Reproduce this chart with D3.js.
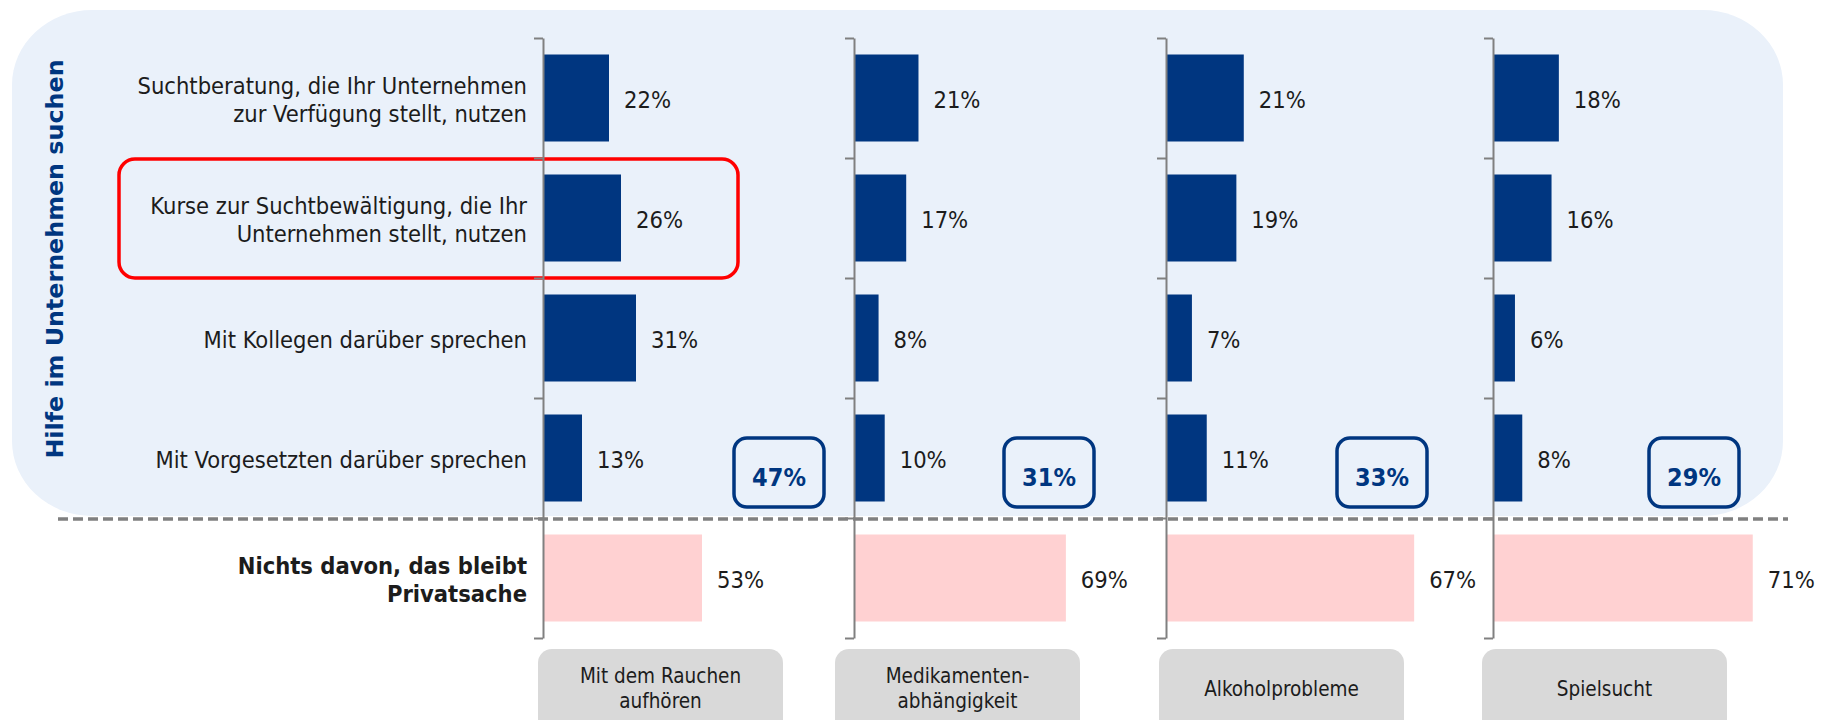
<!DOCTYPE html>
<html>
<head>
<meta charset="utf-8">
<script src="https://cdn.jsdelivr.net/npm/d3@7/dist/d3.min.js"></script>
<style>
  html, body { margin: 0; padding: 0; background: #ffffff; }
  svg { display: block; }
  .cond { font-family: 'DejaVu Sans Condensed', 'DejaVu Sans', sans-serif; font-stretch: condensed; }
</style>
</head>
<body>
<svg id="chart" width="1823" height="720"></svg>
<script>
// ---------------- DATA ----------------
const categoryLines = [
  ["Suchtberatung, die Ihr Unternehmen", "zur Verfügung stellt, nutzen"],
  ["Kurse zur Suchtbewältigung, die Ihr", "Unternehmen stellt, nutzen"],
  ["Mit Kollegen darüber sprechen"],
  ["Mit Vorgesetzten darüber sprechen"],
  ["Nichts davon, das bleibt", "Privatsache"]
];
const topicLines = [
  ["Mit dem Rauchen", "aufhören"],
  ["Medikamenten-", "abhängigkeit"],
  ["Alkoholprobleme"],
  ["Spielsucht"]
];
const valuesRauchen      = [22, 26, 31, 13, 53];
const valuesMedikamente  = [21, 17, 8, 10, 69];
const valuesAlkohol      = [21, 19, 7, 11, 67];
const valuesSpielsucht   = [18, 16, 6, 8, 71];
const totalsHilfe        = [47, 31, 33, 29];
const groupTitle = "Hilfe im Unternehmen suchen";

// ---------------- LAYOUT ----------------
const seriesValues = [valuesRauchen, valuesMedikamente, valuesAlkohol, valuesSpielsucht];
const axisX   = [543, 854, 1166, 1493];
const xMax    = [100, 97.7, 81, 82];    // per-panel axis maxima (each panel its own scale)
const plotW   = 300;
const totalBoxX = [734, 1004, 1337, 1649];
const topicBoxX = [538, 835, 1159, 1482];
const yTop = 38, yBottom = 638;

const blue = "#003680", pink = "#FFD1D2", panelBg = "#EAF1FA", gray = "#808080", textCol = "#1c1c1c";

const svg = d3.select("#chart");

// background panel
svg.append("rect")
  .attr("x", 12).attr("y", 10).attr("width", 1771).attr("height", 506)
  .attr("rx", 80).attr("ry", 75)
  .attr("fill", panelBg);

const catIdx = d3.range(categoryLines.length);
const y = d3.scaleBand().domain(catIdx).range([yTop, yBottom])
  .paddingInner(0.275).paddingOuter(0.1375);
const yEdge = d3.scaleLinear().domain([0, categoryLines.length]).range([yTop, yBottom]);

// vertical group title
svg.append("text")
  .attr("transform", `translate(63, 259) rotate(-90)`)
  .attr("text-anchor", "middle")
  .attr("font-family", "'DejaVu Sans', sans-serif")
  .attr("font-weight", "bold")
  .attr("font-size", 23.8)
  .attr("fill", blue)
  .text(groupTitle);

// category labels
const lineH = 28;
const lab = svg.append("g").attr("class", "cond");
categoryLines.forEach((lines, i) => {
  const cy = y(i) + y.bandwidth() / 2;
  const t = lab.append("text")
    .attr("text-anchor", "end")
    .attr("font-size", 23.5)
    .attr("font-weight", i === 4 ? "bold" : "normal")
    .attr("fill", textCol);
  lines.forEach((ln, k) => {
    t.append("tspan")
      .attr("x", 527)
      .attr("y", cy + (k - (lines.length - 1) / 2) * lineH)
      .attr("dy", "0.42em")
      .text(ln);
  });
});

// red highlight around the second category
svg.append("rect")
  .attr("x", 119).attr("y", yEdge(1) + 1)
  .attr("width", 619).attr("height", yEdge(2) - yEdge(1) - 1)
  .attr("rx", 16)
  .attr("fill", "none").attr("stroke", "#FF0000").attr("stroke-width", 3.5);

// panels
seriesValues.forEach((vals, p) => {
  const x = d3.scaleLinear().domain([0, xMax[p]]).range([axisX[p], axisX[p] + plotW]);
  const g = svg.append("g");

  g.selectAll("rect.bar").data(vals).join("rect")
    .attr("class", "bar")
    .attr("x", x(0))
    .attr("y", (d, i) => y(i))
    .attr("width", d => x(d) - x(0))
    .attr("height", y.bandwidth())
    .attr("fill", (d, i) => i === 4 ? pink : blue);

  g.selectAll("text.val").data(vals).join("text")
    .attr("class", "val cond")
    .attr("x", d => x(d) + 15)
    .attr("y", (d, i) => y(i) + y.bandwidth() / 2)
    .attr("dy", "0.42em")
    .attr("font-size", 23.5)
    .attr("fill", textCol)
    .text(d => d + "%");

  // axis
  const ax = g.append("g")
    .attr("transform", `translate(${axisX[p]},0)`)
    .call(d3.axisLeft(yEdge).tickValues(d3.range(0, categoryLines.length + 1))
      .tickSize(9).tickSizeOuter(0).tickFormat(""));
  ax.select(".domain").attr("stroke", gray).attr("stroke-width", 2);
  ax.selectAll(".tick line").attr("stroke", gray).attr("stroke-width", 2);

  // total box
  const bx = totalBoxX[p];
  g.append("rect")
    .attr("x", bx).attr("y", 438).attr("width", 90).attr("height", 69)
    .attr("rx", 13)
    .attr("fill", panelBg).attr("stroke", blue).attr("stroke-width", 3.5);
  g.append("text")
    .attr("class", "cond")
    .attr("x", bx + 45).attr("y", 477)
    .attr("dy", "0.35em")
    .attr("text-anchor", "middle")
    .attr("font-size", 25).attr("font-weight", "bold")
    .attr("fill", blue)
    .text(totalsHilfe[p] + "%");

  // topic box
  const tx = topicBoxX[p];
  g.append("rect")
    .attr("x", tx).attr("y", 649).attr("width", 245).attr("height", 100)
    .attr("rx", 14).attr("fill", "#D9D9D9");
  const tl = topicLines[p];
  const tt = g.append("text").attr("class", "cond")
    .attr("text-anchor", "middle").attr("font-size", 20.5).attr("fill", textCol);
  tl.forEach((ln, k) => {
    tt.append("tspan")
      .attr("x", tx + 122.5)
      .attr("y", 688 + (k - (tl.length - 1) / 2) * 25)
      .attr("dy", "0.38em")
      .text(ln);
  });
});

// dashed separator
svg.append("line")
  .attr("x1", 58).attr("x2", 1788)
  .attr("y1", yEdge(4) + 1).attr("y2", yEdge(4) + 1)
  .attr("stroke", gray).attr("stroke-width", 3.5)
  .attr("stroke-dasharray", "10,5");
</script>
</body>
</html>
